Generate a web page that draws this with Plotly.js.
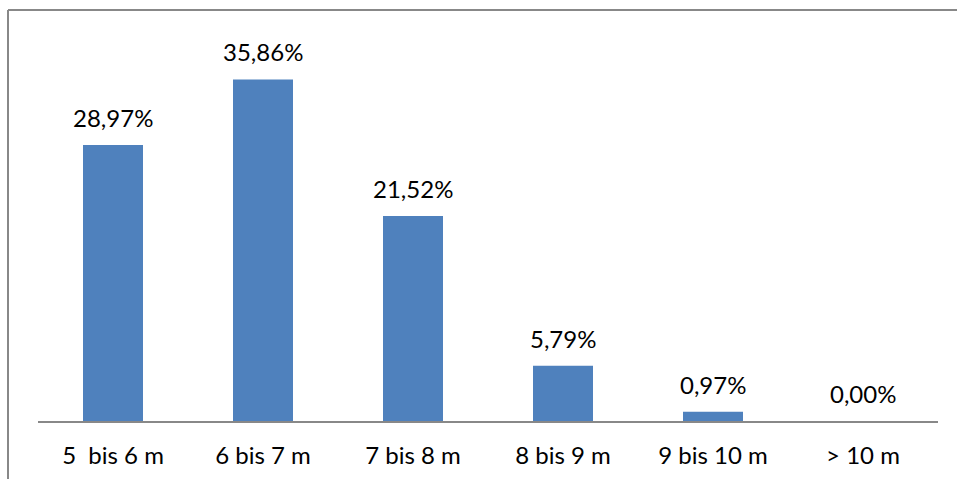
<!DOCTYPE html>
<html><head><meta charset="utf-8">
<script src="https://cdn.plot.ly/plotly-3.0.1.min.js"></script>
<style>html,body{margin:0;padding:0;background:#fff}</style>
</head><body>
<div id="chart" style="width:957px;height:479px"></div>
<script>
const categories = ["5\u00a0 bis 6 m", "6 bis 7 m", "7 bis 8 m", "8 bis 9 m", "9 bis 10 m", "> 10 m"];
const values = [28.97, 35.86, 21.52, 5.79, 0.97, 0.00];
const labels = ["28,97%", "35,86%", "21,52%", "5,79%", "0,97%", "0,00%"];

const font = "Lato, 'Open Sans', sans-serif";
const trace = {
  type: "bar", x: categories, y: values, width: 0.4,
  marker: {color: "#4F81BD", line: {width: 0}},
  hoverinfo: "none"
};
const annotations = categories.map((c, i) => ({
  x: c, y: values[i], xref: "x", yref: "y", text: labels[i],
  showarrow: false, yanchor: "bottom", yshift: 11,
  font: {family: font, size: 24, color: "#000"}
}));
const layout = {
  width: 957, height: 479,
  margin: {l: 38, r: 19, t: 40, b: 58},
  paper_bgcolor: "#fff", plot_bgcolor: "#fff",
  showlegend: false,
  xaxis: {
    type: "category", showgrid: false, zeroline: false,
    showline: true, linecolor: "#888", linewidth: 1.5,
    ticks: "", ticklabelstandoff: 13,
    tickfont: {family: font, size: 24, color: "#000"}
  },
  yaxis: {range: [0, 40], visible: false, showgrid: false, zeroline: false},
  annotations: annotations,
  shapes: [
    {type: "line", xref: "paper", yref: "paper", x0: -30/900, x1: 1.03, y0: 1 + 30/381, y1: 1 + 30/381, line: {color: "#888", width: 2}},
    {type: "line", xref: "paper", yref: "paper", x0: -30/900, x1: -30/900, y0: 1 + 30/381, y1: -0.2, line: {color: "#888", width: 2}}
  ]
};
Plotly.newPlot("chart", [trace], layout, {staticPlot: true, displayModeBar: false});
</script>
</body></html>
